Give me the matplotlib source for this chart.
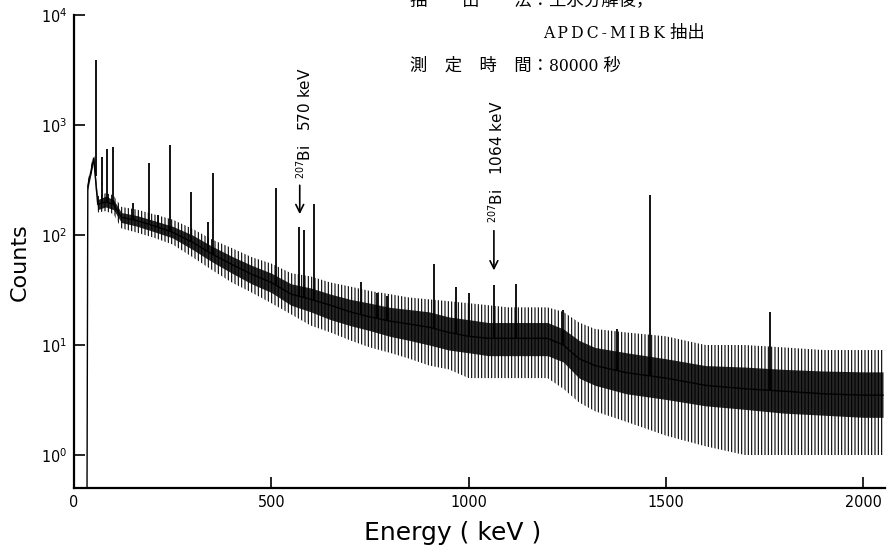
import numpy as np
import matplotlib
matplotlib.use('Agg')
import matplotlib.pyplot as plt
from matplotlib import font_manager

# continuum of the spectrum (keV / counts)
energy = [33, 35, 50, 60, 80, 100, 120, 160, 200, 250, 300, 350, 400, 450, 500,
          550, 600, 650, 700, 750, 800, 850, 900, 950, 1000, 1050, 1100, 1150,
          1200, 1240, 1280, 1320, 1400, 1500, 1600, 1700, 1800, 1900, 2000, 2050]
counts_mid = [0.5, 280, 500, 190, 200, 190, 145, 135, 122, 106, 86, 67, 54, 44, 37,
              29, 26, 23, 20, 18, 16.5, 15.5, 14.5, 13, 12, 11.5, 11.5, 11.5,
              11.5, 10, 7.5, 6.5, 5.6, 5.0, 4.3, 4.0, 3.8, 3.6, 3.5, 3.5]
band_lo = [0.5, 260, 470, 170, 180, 170, 130, 120, 108, 94, 74, 57, 45, 36, 30,
           23, 20, 17, 15, 13.5, 12, 11, 10, 9, 8.5, 8, 8, 8,
           8, 7, 5, 4.3, 3.6, 3.2, 2.8, 2.6, 2.4, 2.3, 2.2, 2.2]
band_hi = [0.5, 300, 530, 210, 225, 210, 160, 150, 136, 120, 100, 79, 64, 53, 45,
           36, 33, 29, 26, 24, 22, 21, 20, 18, 17, 16, 16, 16,
           16, 14, 11, 9.5, 8.5, 7.5, 6.5, 6.3, 6.0, 5.8, 5.7, 5.7]
spike_lo = [0.5, 250, 450, 160, 165, 155, 115, 105, 95, 82, 63, 48, 37, 30, 24,
            19, 15, 13, 11, 9.5, 8.5, 7.5, 6.5, 6, 5, 5, 5, 5,
            5, 4, 3, 2.5, 2, 1.5, 1.2, 1.0, 1.0, 1.0, 1.0, 1.0]
spike_hi = [0.5, 310, 560, 225, 240, 230, 180, 170, 155, 138, 114, 91, 76, 63, 55,
            45, 42, 37, 34, 31, 29, 27, 26, 25, 24, 23, 22, 22,
            22, 20, 16, 14, 13, 12, 10, 10, 9.5, 9, 9, 9]

# photopeaks (keV / peak counts)
peak_e = [55, 70, 83, 100, 150, 190, 214, 242, 297, 340, 352, 511, 570, 583, 609,
          727, 768, 794, 911, 969, 1001, 1120, 1064, 1238, 1377, 1460, 1764]
peak_top = [3900, 510, 605, 630, 195, 450, 152, 660, 245, 130, 365, 270, 118, 112, 190,
            37, 30, 28, 54, 34, 30, 36, 35, 21, 14, 230, 20]

# narrow face for tick labels if one is installed
fonts = font_manager.fontManager.ttflist
if any(f.name == 'Liberation Sans Narrow' for f in fonts):
    plt.rcParams['font.family'] = ['Liberation Sans Narrow', 'DejaVu Sans']
elif any(f.name == 'DejaVu Sans' and f.stretch == 'condensed' for f in fonts):
    plt.rcParams['font.family'] = ['DejaVu Sans']
    plt.rcParams['font.stretch'] = 'condensed'
else:
    plt.rcParams['font.family'] = ['DejaVu Sans']
plt.rcParams['hatch.linewidth'] = 0.8

fig = plt.figure(figsize=(8.93, 5.52), dpi=100)
ax = fig.add_axes([74 / 893, 1 - 488 / 552, (885 - 74) / 893, (488 - 15) / 552])
ax.set_yscale('log')
ax.set_xlim(0, 2055)
ax.set_ylim(10 ** -0.3, 1e4)

# noise spikes and the dense band
ax.fill_between(energy, spike_lo, spike_hi, facecolor='none', edgecolor='black',
                hatch='|||||', linewidth=0)
ax.fill_between(energy, band_lo, band_hi, color='black', alpha=0.85, linewidth=0)
ax.plot(energy, counts_mid, color='black', lw=1.0)

base = np.interp(peak_e, energy, counts_mid)
ax.vlines(peak_e, base, peak_top, color='black', lw=1.3)

# 207Bi markers
ax.annotate('', xy=(572, 146), xytext=(572, 300),
            arrowprops=dict(arrowstyle='->', color='black', lw=1.2, mutation_scale=14))
ax.text(585, 320, r'$^{207}$Bi   570 keV', rotation=90, ha='center', va='bottom',
        fontsize=11, family='DejaVu Sans', stretch='normal')
ax.annotate('', xy=(1064, 45), xytext=(1064, 116),
            arrowprops=dict(arrowstyle='->', color='black', lw=1.2, mutation_scale=14))
ax.text(1072, 128, r'$^{207}$Bi   1064 keV', rotation=90, ha='center', va='bottom',
        fontsize=11, family='DejaVu Sans', stretch='normal')

ax.set_xticks([0, 500, 1000, 1500, 2000])
ax.set_yticks([1, 10, 100, 1000, 10000])
ax.minorticks_off()
ax.tick_params(direction='in', length=8, width=1.2, labelsize=11.5, pad=5)
for s in ['top', 'right']:
    ax.spines[s].set_visible(False)
for s in ['left', 'bottom']:
    ax.spines[s].set_linewidth(1.6)

ax.set_xlabel('Energy ( keV )', fontsize=18, family='DejaVu Sans', stretch='normal')
ax.xaxis.set_label_coords(0.467, -0.07)
ax.set_ylabel('Counts', fontsize=16, family='DejaVu Sans', stretch='normal')
ax.yaxis.set_label_coords(-0.054, 0.478)

# header text (first line is cut off at the top of the scan)
jp = ['DejaVu Serif', 'Noto Sans CJK JP']
x0 = 410 / 893
fig.text(x0, 1 - 1 / 552, '抽　　出　　法：王水分解後，', fontsize=12.5, family=jp,
         ha='left', va='center')
fig.text(543 / 893, 1 - 33 / 552, 'A\u2009P\u2009D\u2009C\u2009-\u2009M\u2009I\u2009B\u2009K 抽出',
         fontsize=12.5, family=jp, ha='left', va='center')
fig.text(x0, 1 - 66 / 552, '測　定　時　間：80000 秒', fontsize=12.5, family=jp,
         ha='left', va='center')

fig.savefig('out.png', dpi=100)
